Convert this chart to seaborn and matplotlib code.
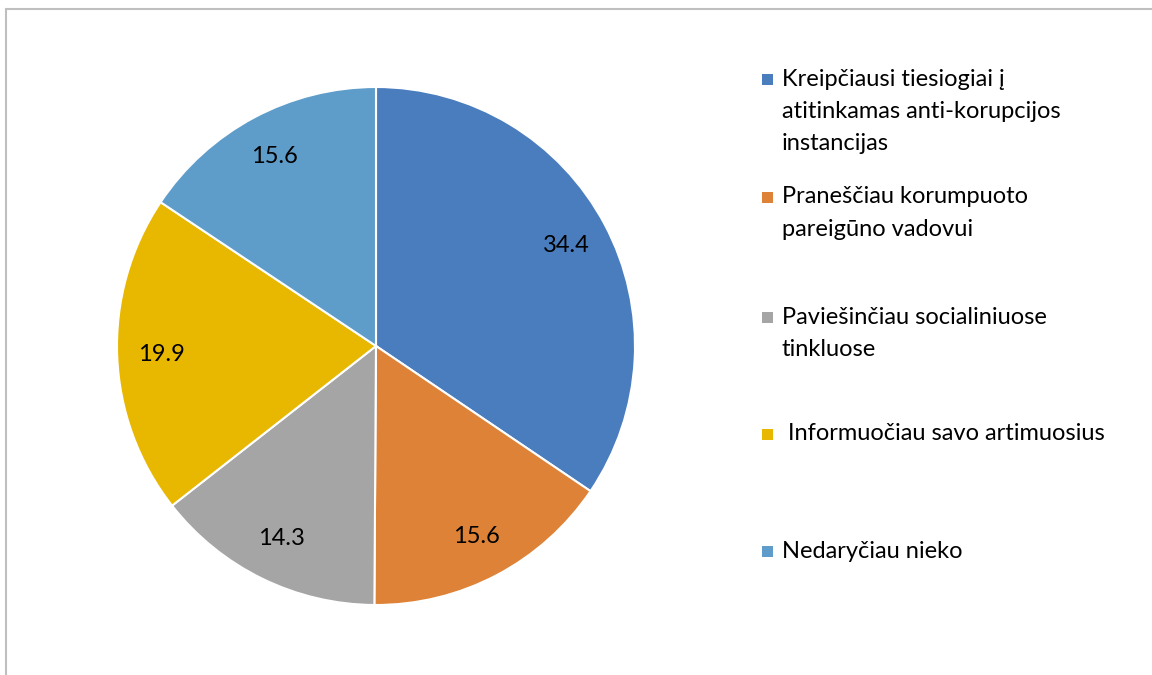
import matplotlib.pyplot as plt
import seaborn as sns
from matplotlib.patches import Rectangle
from matplotlib.lines import Line2D

# Data
categories = [
    "Kreipčiausi tiesiogiai į\natitinkamas anti-korupcijos\ninstancijas",
    "Praneščiau korumpuoto\npareigūno vadovui",
    "Paviešinčiau socialiniuose\ntinkluose",
    " Informuočiau savo artimuosius",
    "Nedaryčiau nieko",
]
values = [34.4, 15.6, 14.3, 19.9, 15.6]
colors = ["#4A7DBE", "#DD8236", "#A5A5A5", "#E8B700", "#5E9DCA"]

sns.set_theme(style="white")
plt.rcParams["font.family"] = ["Lato", "DejaVu Sans"]

fig = plt.figure(figsize=(11.52, 6.75), dpi=100)
W, H = 1152, 675

# pie axes placed so that center ~ (376, 346) px and radius ~ 259 px
ax = fig.add_axes([117 / W, 1 - 605 / H, 518 / W, 518 / H])
total = sum(values)
wedges, texts, autotexts = ax.pie(
    values,
    colors=colors,
    startangle=90,
    counterclock=False,
    autopct=lambda p: f"{p * total / 100:.1f}",
    pctdistance=0.83,
    wedgeprops=dict(edgecolor="white", linewidth=1.5),
    textprops=dict(fontsize=17, color="black"),
)
ax.set_aspect("equal")
ax.set_xlim(-1, 1)
ax.set_ylim(-1, 1)
ax.axis("off")

# legend drawn by hand to match the spacing of the original
entry_y = [79, 197, 317, 434, 551]
line_gap = 32.5
for label, col, y0 in zip(categories, colors, entry_y):
    fig.patches.append(Rectangle((762 / W, 1 - (y0 + 6) / H), 11 / W, 11 / H,
                                 transform=fig.transFigure, facecolor=col,
                                 edgecolor="none"))
    for i, line in enumerate(label.split("\n")):
        fig.text(782 / W, 1 - (y0 + i * line_gap) / H, line, fontsize=17,
                 va="center", ha="left", color="black")

# chart frame (top and left edges visible)
fig.add_artist(Line2D([6 / W, 1], [1 - 9 / H, 1 - 9 / H], color="#BFBFBF",
                      lw=1.5, transform=fig.transFigure))
fig.add_artist(Line2D([6 / W, 6 / W], [0, 1 - 9 / H], color="#BFBFBF",
                      lw=1.5, transform=fig.transFigure))

fig.savefig("out.png", dpi=100, facecolor="white")
